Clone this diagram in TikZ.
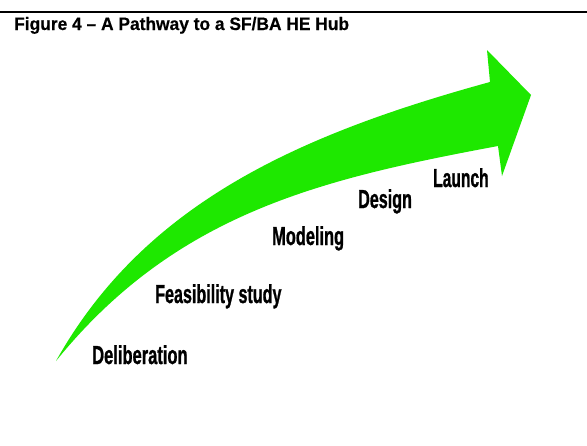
\documentclass[tikz,border=0pt]{standalone}
\usepackage{fontspec}
\usepackage{graphicx}
\setmainfont{Liberation Sans}
\newfontfamily\stagefont{Liberation Sans}[FakeBold=1.2]
\newfontfamily\titlefont{Liberation Sans}[FakeBold=0.5]
\definecolor{arrowgreen}{RGB}{30,232,0}
\newcommand{\narrowtext}[2]{\scalebox{#1}[1]{#2}}
\tikzset{
  stage/.style={anchor=base west, inner sep=0pt, font=\stagefont\fontsize{26}{28}\selectfont\bfseries, text=black},
  figtitle/.style={anchor=base west, inner sep=0pt, font=\titlefont\fontsize{18}{20}\selectfont\bfseries, text=black},
  rule/.style={line width=2pt, black},
  bigarrow/.style={fill=arrowgreen, draw=none}
}
\begin{document}
\begin{tikzpicture}[x=1pt,y=-1pt]
\useasboundingbox[fill=white] (0,0) rectangle (587,445);
% top rule
\coordinate (ruleL) at (0,11.7);
\coordinate (ruleR) at (587,11.7);
\draw[rule] (ruleL) -- (ruleR);
% title
\node[figtitle] (title) at (14,30) {\narrowtext{0.965}{Figure 4 – A Pathway to a SF/BA HE Hub}};
% curved arrow
\fill[bigarrow] (56,361) .. controls (144,204) and (297,135) .. (490,82)
  -- (487,50) -- (531,95) -- (502,176) -- (498,146)
  .. controls (321,179) and (176,213) .. (56,361) -- cycle;
% stage labels
\node[stage] (delib) at (92,364) {\narrowtext{0.635}{Deliberation}};
\node[stage] (feas) at (155,303) {\narrowtext{0.62}{Feasibility study}};
\node[stage] (model) at (272,245) {\narrowtext{0.63}{Modeling}};
\node[stage] (design) at (358,208) {\narrowtext{0.62}{Design}};
\node[stage] (launch) at (433,187) {\narrowtext{0.60}{Launch}};
\end{tikzpicture}
\end{document}
